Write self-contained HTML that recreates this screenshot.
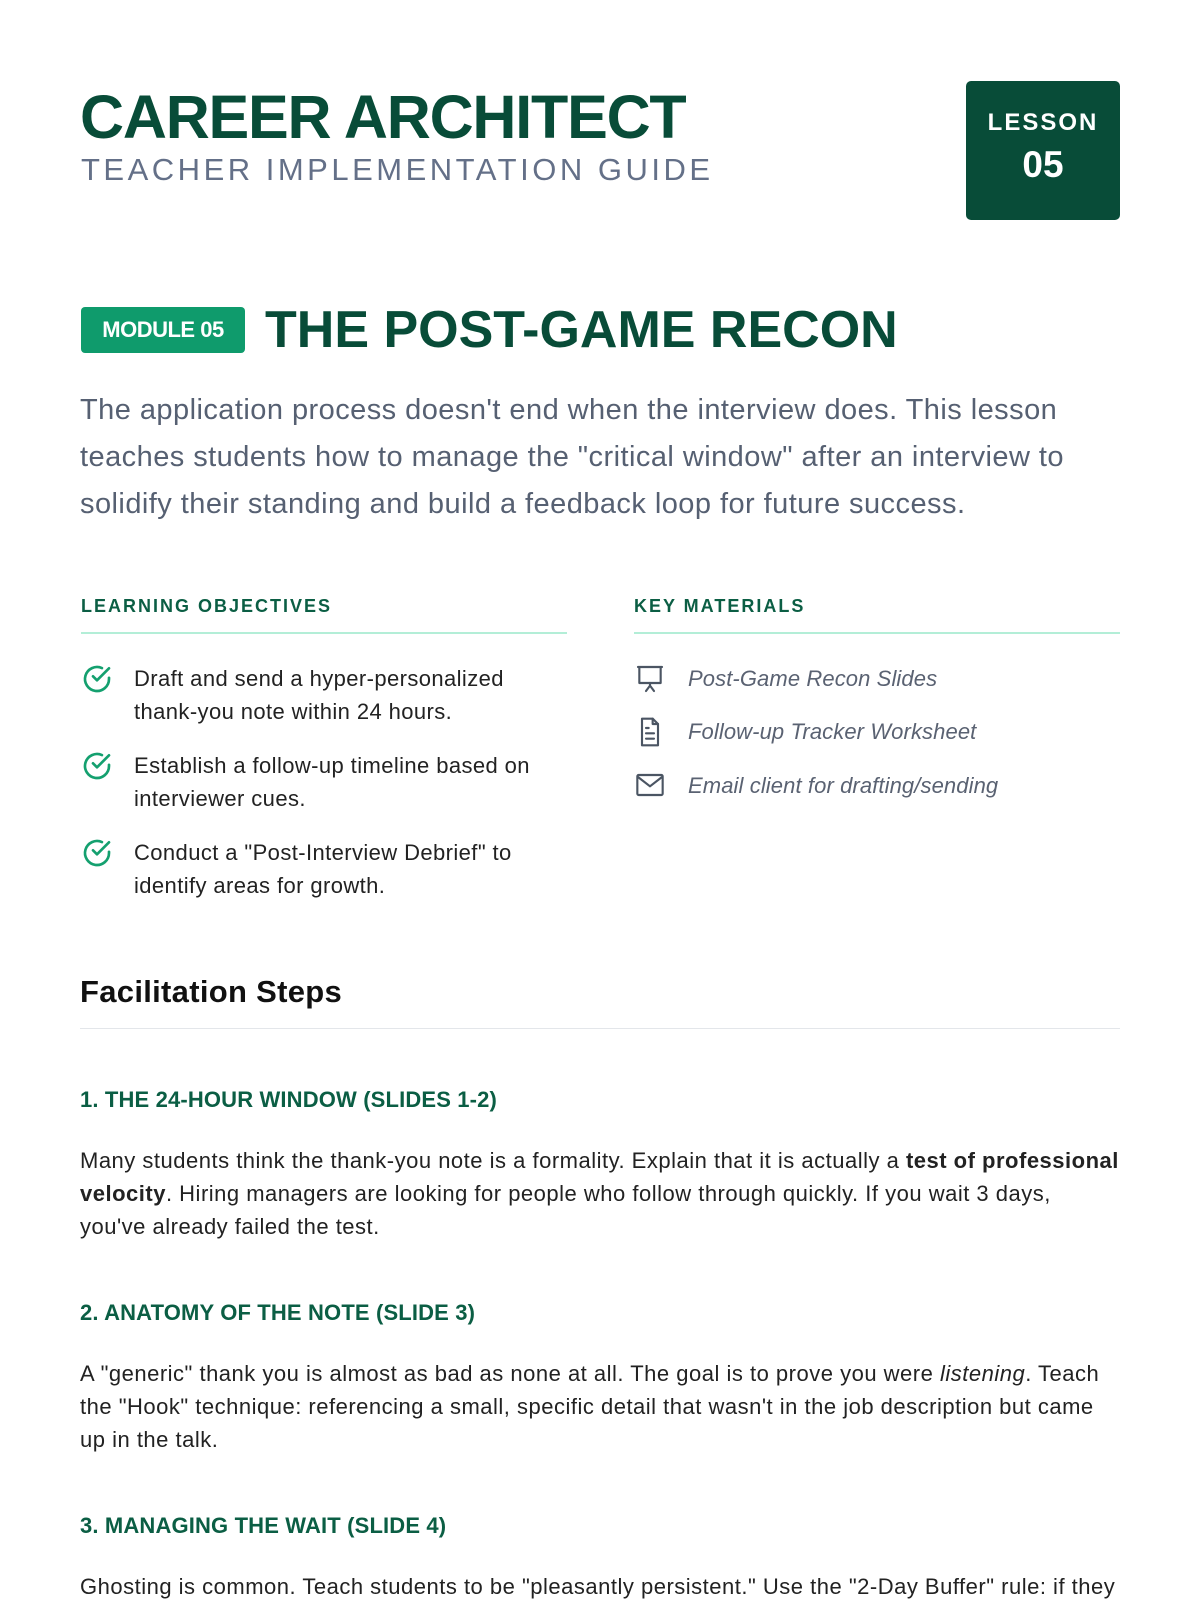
<!DOCTYPE html>
<html><head><meta charset="utf-8"><style>
*{margin:0;padding:0;box-sizing:border-box}
body{width:1200px;height:1600px;overflow:hidden;background:#fff;font-family:"Liberation Sans",sans-serif;position:relative}
.a{position:absolute;white-space:nowrap}
.title{left:80px;top:82px;font-size:61px;font-weight:900;color:#084c38;letter-spacing:-1.2px;line-height:70px}
.sub{left:81px;top:150px;font-size:31px;color:#647088;letter-spacing:3.5px;line-height:40px}
.lesson{left:966px;top:81px;width:154px;height:139px;background:#084c38;border-radius:5px;color:#fff;text-align:center}
.badge{left:81px;top:307px;width:164px;height:46px;background:#0f9b6c;border-radius:4px;color:#fff;font-size:22px;font-weight:bold;line-height:46px;text-align:center;letter-spacing:-0.5px}
.h1{left:265px;top:300px;font-size:52px;font-weight:bold;color:#084c38;line-height:60px}
.intro{left:80px;top:387px;font-size:29px;color:#566072;line-height:47px;letter-spacing:0.45px}
.sh{font-size:18px;font-weight:bold;color:#0b5e44;letter-spacing:2px;line-height:24px;top:594px}
.rule{height:2px;background:#b3eed7;top:632px}
.li{font-size:22px;color:#222;line-height:33px;letter-spacing:0.4px}
.mat{font-size:22px;color:#5a6272;font-style:italic;line-height:33px;letter-spacing:0.1px}
.fs{left:80px;top:972px;font-size:31px;font-weight:bold;color:#111;line-height:40px;letter-spacing:0.3px}
.step{left:80px;font-size:22px;font-weight:bold;color:#0b5e44;line-height:30px;letter-spacing:0.15px}
.p{left:80px;font-size:22px;color:#222;line-height:33px;letter-spacing:0.5px}
</style></head><body>
<div class="a title">CAREER ARCHITECT</div>
<div class="a sub">TEACHER IMPLEMENTATION GUIDE</div>
<div class="a lesson"><div style="font-size:24px;font-weight:bold;letter-spacing:2px;margin-top:28px;line-height:28px">LESSON</div><div style="font-size:37px;font-weight:bold;line-height:44px;margin-top:6px">05</div></div>
<div class="a badge">MODULE 05</div>
<div class="a h1">THE POST-GAME RECON</div>
<div class="a intro">The application process doesn't end when the interview does. This lesson<br>teaches students how to manage the "critical window" after an interview to<br>solidify their standing and build a feedback loop for future success.</div>

<div class="a sh" style="left:81px">LEARNING OBJECTIVES</div>
<div class="a rule" style="left:81px;width:486px"></div>
<div class="a sh" style="left:634px">KEY MATERIALS</div>
<div class="a rule" style="left:634px;width:486px"></div>

<svg class="a" style="left:81px;top:663px" width="32" height="32" viewBox="0 0 24 24" fill="none" stroke="#14a06f" stroke-width="2" stroke-linecap="round" stroke-linejoin="round"><path d="M21 11.1V12a9 9 0 1 1-5.3-8.2"/><path d="M21 4 12 13l-3-3"/></svg>
<div class="a li" style="left:134px;top:662px">Draft and send a hyper-personalized<br>thank-you note within 24 hours.</div>
<svg class="a" style="left:81px;top:750px" width="32" height="32" viewBox="0 0 24 24" fill="none" stroke="#14a06f" stroke-width="2" stroke-linecap="round" stroke-linejoin="round"><path d="M21 11.1V12a9 9 0 1 1-5.3-8.2"/><path d="M21 4 12 13l-3-3"/></svg>
<div class="a li" style="left:134px;top:749px">Establish a follow-up timeline based on<br>interviewer cues.</div>
<svg class="a" style="left:81px;top:837px" width="32" height="32" viewBox="0 0 24 24" fill="none" stroke="#14a06f" stroke-width="2" stroke-linecap="round" stroke-linejoin="round"><path d="M21 11.1V12a9 9 0 1 1-5.3-8.2"/><path d="M21 4 12 13l-3-3"/></svg>
<div class="a li" style="left:134px;top:836px">Conduct a "Post-Interview Debrief" to<br>identify areas for growth.</div>

<svg class="a" style="left:634px;top:663px" width="32" height="32" viewBox="0 0 24 24" fill="none" stroke="#4b5563" stroke-width="1.6" stroke-linecap="round" stroke-linejoin="round"><path d="M3 3h18M4 3v12h16V3"/><path d="M12 15v2M9 21l3-4 3 4"/></svg>
<div class="a mat" style="left:688px;top:662px">Post-Game Recon Slides</div>
<svg class="a" style="left:634px;top:716px" width="32" height="32" viewBox="0 0 24 24" fill="none" stroke="#4b5563" stroke-width="1.6" stroke-linecap="round" stroke-linejoin="round"><path d="M14 2H6v20h12V6z"/><path d="M14 2v4h4M9 13h6M9 17h6M9 9h2"/></svg>
<div class="a mat" style="left:688px;top:715px">Follow-up Tracker Worksheet</div>
<svg class="a" style="left:634px;top:769px" width="32" height="32" viewBox="0 0 24 24" fill="none" stroke="#4b5563" stroke-width="1.6" stroke-linecap="round" stroke-linejoin="round"><rect x="2.5" y="4.5" width="19" height="15" rx="1"/><path d="M3 6l9 7 9-7"/></svg>
<div class="a mat" style="left:688px;top:769px">Email client for drafting/sending</div>

<div class="a fs">Facilitation Steps</div>
<div class="a" style="left:80px;top:1028px;width:1040px;height:1px;background:#e3e6ea"></div>

<div class="a step" style="top:1085px">1. THE 24-HOUR WINDOW (SLIDES 1-2)</div>
<div class="a p" style="top:1144px">Many students think the thank-you note is a formality. Explain that it is actually a <b>test of professional</b><br><b>velocity</b>. Hiring managers are looking for people who follow through quickly. If you wait 3 days,<br>you've already failed the test.</div>
<div class="a step" style="top:1298px">2. ANATOMY OF THE NOTE (SLIDE 3)</div>
<div class="a p" style="top:1357px">A "generic" thank you is almost as bad as none at all. The goal is to prove you were <i>listening</i>. Teach<br>the "Hook" technique: referencing a small, specific detail that wasn't in the job description but came<br>up in the talk.</div>
<div class="a step" style="top:1511px">3. MANAGING THE WAIT (SLIDE 4)</div>
<div class="a p" style="top:1570px">Ghosting is common. Teach students to be "pleasantly persistent." Use the "2-Day Buffer" rule: if they</div>
</body></html>
